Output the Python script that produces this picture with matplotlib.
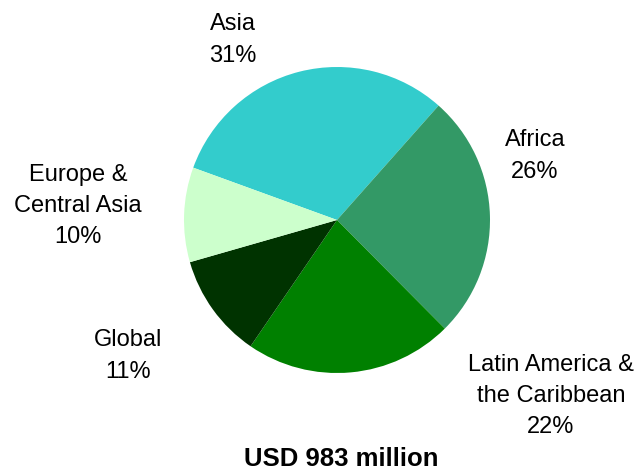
import matplotlib.pyplot as plt

plt.rcParams["font.family"] = ["Liberation Sans", "DejaVu Sans"]

regions = ["Asia", "Africa", "Latin America &\nthe Caribbean", "Global", "Europe &\nCentral Asia"]
shares = [31, 26, 22, 11, 10]
colors = ["#33CCCC", "#339966", "#008000", "#003300", "#CCFFCC"]
total_label = "USD 983 million"

# label anchor points, in pixels (x from left, y from top)
label_px = [(233, 40), (535, 156), (551, 396), (128, 356), (78, 206)]

W, H = 638, 470
cx, cy, r = 337, 220, 153

fig = plt.figure(figsize=(W / 100, H / 100), dpi=100)
ax = fig.add_axes([(cx - r) / W, (H - cy - r) / H, 2 * r / W, 2 * r / H])

ax.pie(shares, colors=colors, startangle=160, counterclock=False,
       radius=1, wedgeprops=dict(linewidth=0))
ax.set_xlim(-1, 1)
ax.set_ylim(-1, 1)
ax.set_aspect("equal")
ax.axis("off")

for name, pct, (px, py) in zip(regions, shares, label_px):
    fig.text(px / W, 1 - py / H, f"{name}\n{pct}%", ha="center", va="center",
             fontsize=17, linespacing=1.55)

fig.text(341 / W, 1 - 459 / H, total_label, ha="center", va="center",
         fontsize=18.5, fontweight="bold")

fig.savefig("out.png", dpi=100)
